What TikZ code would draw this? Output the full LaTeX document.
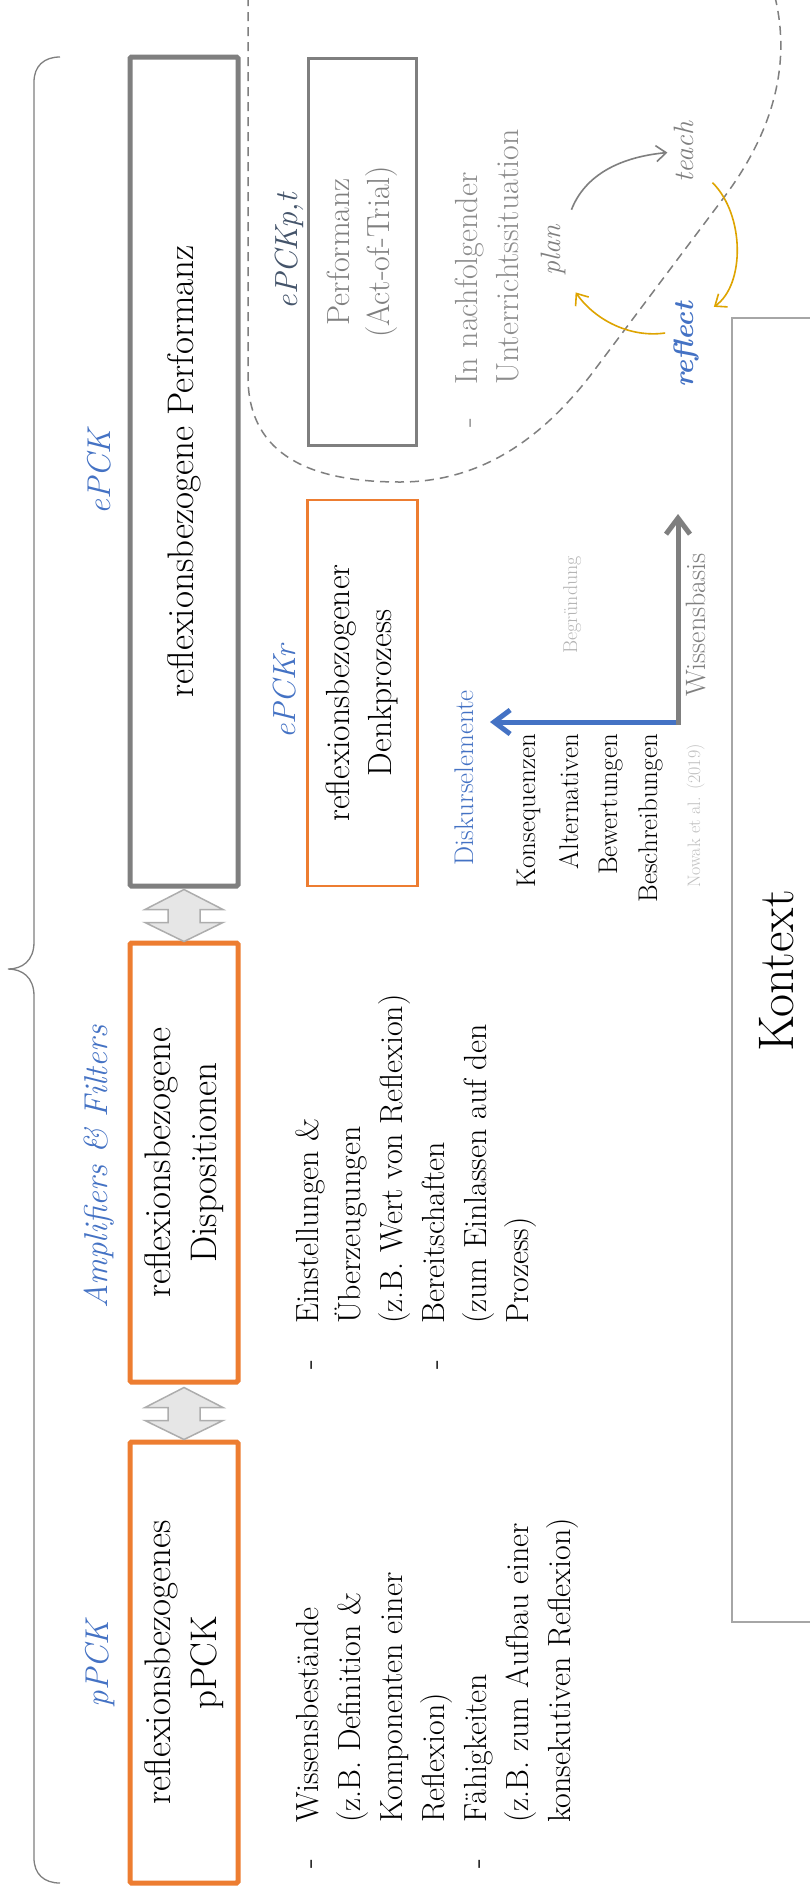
\documentclass[tikz,border=0pt]{standalone}
\usepackage{fontspec}
\usetikzlibrary{arrows.meta}

\definecolor{accblue}{HTML}{4472C4}
\definecolor{accorange}{HTML}{ED7D31}
\definecolor{boxgray}{HTML}{7F7F7F}
\definecolor{slate}{HTML}{44546A}
\definecolor{cyclegold}{HTML}{DEA400}
\definecolor{softgray}{HTML}{B4B4B4}
\definecolor{palegray}{HTML}{C0C0C0}
\definecolor{framegray}{HTML}{A6A6A6}
\definecolor{arrowfill}{HTML}{E6E6E6}
\definecolor{arrowline}{HTML}{ADADAD}
\definecolor{notegray}{HTML}{8C8C8C}

\newcommand\setfs[2]{\fontsize{#1}{#2}\selectfont}

\tikzset{
  rot/.style={rotate=90, inner sep=0pt},
  bigbox/.style={rot, draw, line width=5pt, rounded corners=1.5pt, align=center,
    minimum height=108pt, font=\setfs{37}{46}},
  smallbox/.style={rot, draw, align=center, minimum height=110pt},
  lab/.style={rot, anchor=base, text=accblue, font=\setfs{33}{40}\itshape},
  cyc/.style={rot, anchor=base, text=boxgray, font=\setfs{28}{34}\itshape},
  item/.style={rot, anchor=base west, font=\setfs{32}{42}},
  dblarrow/.style={fill=arrowfill, draw=arrowline, line width=1.5pt, line join=miter},
  cycarrow/.style={line width=1.6pt, -{Straight Barb[length=10pt, width=16pt]}},
  axarrow/.style={line width=5pt, -{Straight Barb[length=16pt, width=24pt]}},
  dashcurve/.style={draw=boxgray, line width=1.5pt, dash pattern=on 9pt off 6pt},
  bracestyle/.style={draw=boxgray, line width=1.3pt}
}

\begin{document}
\begin{tikzpicture}[x=1pt, y=-1pt]
  \fill[white] (0,0) rectangle (810,1888);
  \useasboundingbox (0,0) rectangle (810,1888);

  % curly brace spanning the three main boxes
  \draw[bracestyle] (60,57) .. controls (44,57) and (34,66) .. (34,82) -- (34,942)
    .. controls (34,961) and (22,969) .. (8,969)
    .. controls (22,969) and (34,977) .. (34,996) -- (34,1858)
    .. controls (34,1874) and (44,1883) .. (60,1883);

  % dashed region around the subsequent teaching situation
  \draw[dashcurve] (248,-3) -- (248,380) .. controls (250,455) and (310,482) .. (400,482)
    .. controls (480,482) and (540,440) .. (590,376) -- (722,200)
    .. controls (760,150) and (795,80) .. (775,-3);

  % context frame, open towards the page edge
  \draw[framegray, line width=1.5pt] (815,318) -- (732,318) -- (732,1622) -- (815,1622);
  \node[rot, anchor=base, font=\setfs{50}{60}] (kontext) at (793,971) {Kontext};

  % main column
  \node[bigbox, draw=boxgray, minimum width=829pt] (perf) at (184,471.5)
    {reflexionsbezogene Performanz};
  \node[bigbox, draw=accorange, minimum width=439pt] (disp) at (184,1162.5)
    {reflexionsbezogene\\Dispositionen};
  \node[bigbox, draw=accorange, minimum width=441pt] (ppck) at (184,1662.5)
    {reflexionsbezogenes\\pPCK};

  \draw[dblarrow, shift={(perf.west)}] (0,1) -- (39,21) -- (16,21) -- (16,34) -- (39,34)
    -- (0,53) -- (-39,34) -- (-16,34) -- (-16,21) -- (-39,21) -- cycle;
  \draw[dblarrow, shift={(disp.west)}] (0,3) -- (39,23) -- (16,23) -- (16,36) -- (39,36)
    -- (0,55) -- (-39,36) -- (-16,36) -- (-16,23) -- (-39,23) -- cycle;

  \node[lab] (lepck) at (110,472) {ePCK};
  \node[lab] (lamp) at (107,1167) {Amplifiers \& Filters};
  \node[lab] (lppck) at (108,1664) {pPCK};

  % second column
  \node[lab, font=\setfs{32}{38}\itshape] (lepckpt) at (297,251) {\textcolor{slate}{ePCKp,t}};
  \node[lab, font=\setfs{32}{38}\itshape] (lepckr) at (295,692) {ePCKr};
  \node[smallbox, draw=boxgray, line width=3pt, minimum width=386.5pt, minimum height=108pt,
    text=boxgray, font=\setfs{32}{40}] (act) at (362,251.75) {Performanz\\(Act-of-Trial)};
  \node[smallbox, draw=accorange, line width=2.5pt, minimum width=386pt,
    font=\setfs{33.5}{42}] (denk) at (362.5,693) {reflexionsbezogener\\Denkprozess};

  % subsequent teaching situation
  \node[item, text=notegray] (nachdash) at (477,428) {-};
  \node[item, text=notegray] (nach1) at (477,385) {In nachfolgender};
  \node[item, text=notegray] (nach2) at (518,385) {Unterrichtssituation};

  % plan - teach - reflect cycle
  \node[cyc] (plan) at (560,250) {plan};
  \node[cyc] (teach) at (693,152) {teach};
  \node[cyc, text=accblue, font=\setfs{28}{34}\bfseries\itshape] (reflect) at (693,345) {reflect};
  \draw[cycarrow, draw=boxgray, shorten <=16pt, shorten >=6pt]
    (plan.south east) .. controls (585,175) and (620,157) .. (teach.north);
  \draw[cycarrow, draw=cyclegold]
    ([xshift=19pt]teach.south west) .. controls (745,215) and (745,285) ..
    ([xshift=15pt, yshift=-5pt]reflect.south east);
  \draw[cycarrow, draw=cyclegold]
    ([xshift=-8pt, yshift=12pt]reflect.north) .. controls (630,338) and (595,320) ..
    ([xshift=10pt, yshift=-17pt]plan.south west);

  % discourse elements versus knowledge base
  \coordinate (axo) at (678,722);
  \coordinate (axd) at (490,722);
  \coordinate (axw) at (678,514);
  \draw[axarrow, draw=accblue] ([xshift=2.5pt]axo) -- (axd);
  \draw[axarrow, draw=boxgray] ([yshift=-3pt]axo) -- (axw);
  \node[rot, anchor=base, text=boxgray, font=\setfs{28}{34}] (wiss) at (705,625) {Wissensbasis};
  \node[rot, anchor=base, text=softgray, font=\setfs{20}{24}] (begr) at (577,605) {Begründung};
  \node[rot, anchor=base, text=accblue, font=\setfs{27}{32}] (disk) at (473,778) {Diskurselemente};
  \node[rot, anchor=base east, font=\setfs{27}{32}] (kons) at (535,734) {Konsequenzen};
  \node[rot, anchor=base east, font=\setfs{27}{32}] (alt) at (578,734) {Alternativen};
  \node[rot, anchor=base east, font=\setfs{27}{32}] (bew) at (617,734) {Bewertungen};
  \node[rot, anchor=base east, font=\setfs{27}{32}] (besch) at (657,734) {Beschreibungen};
  \node[rot, anchor=base, text=palegray, font=\setfs{18}{22}] (nowak) at (700,816) {Nowak et al. (2019)};

  % dispositions list
  \node[item] (dashA1) at (318,1370) {-};
  \node[item] (dashA2) at (444,1370) {-};
  \foreach \t [count=\i] in {{Einstellungen \&},{Überzeugungen},{(z.B. Wert von Reflexion)},
      {Bereitschaften},{(zum Einlassen auf den},{Prozess)}}
    \node[item] (displine\i) at (276+42*\i,1324) {\t};

  % pPCK list
  \node[item] (dashB1) at (318,1869) {-};
  \node[item] (dashB2) at (486,1869) {-};
  \foreach \t [count=\i] in {{Wissensbestände},{(z.B. Definition \&},{Komponenten einer},
      {Reflexion)},{Fähigkeiten},{(z.B. zum Aufbau einer},{konsekutiven Reflexion)}}
    \node[item] (ppckline\i) at (276+42*\i,1823) {\t};
\end{tikzpicture}
\end{document}
